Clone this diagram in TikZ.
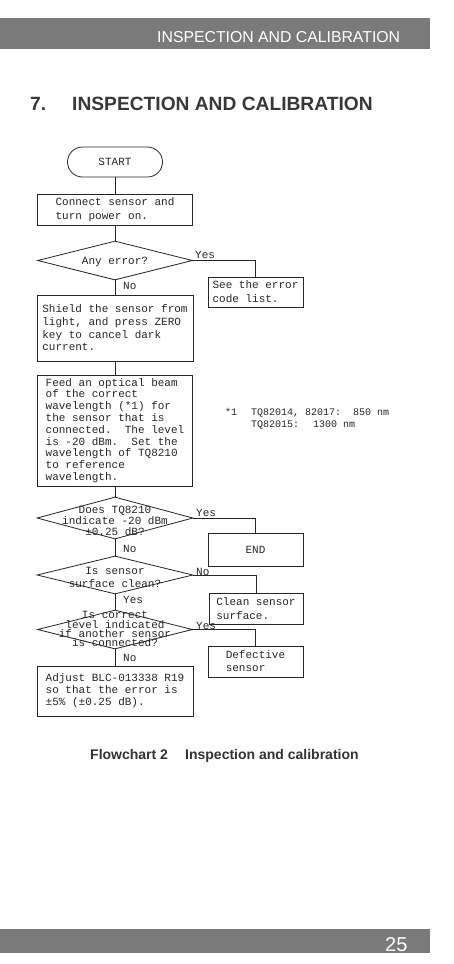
\documentclass[tikz,border=0pt]{standalone}
\usepackage{fontspec}
\setmainfont{Liberation Sans}
\setmonofont{Liberation Mono}
\usetikzlibrary{shapes.geometric}
\newcommand\mysz[2]{\fontsize{#1}{#2}\selectfont\ttfamily}
\begin{document}
\begin{tikzpicture}[x=1pt,y=-1pt,
  line/.style={draw=black!85, line width=0.8pt},
  proc/.style={rectangle, line, inner sep=0pt, align=left, text=black!85},
  startbox/.style={rectangle, rounded corners=15pt, line, inner sep=0pt, minimum width=95pt, minimum height=30pt, font=\mysz{11}{13}, text=black!85},
  dec/.style={diamond, line, inner sep=0pt},
  dtext/.style={align=center, inner sep=0pt, text=black!85},
  lab/.style={inner sep=0pt, font=\mysz{11}{13}, text=black!85},
  bar/.style={fill=black!52, draw=none},
  bartext/.style={inner sep=0pt, text=white},
]
\useasboundingbox (0,0) rectangle (454,964);
\fill[white] (0,0) rectangle (454,964);

% header
\path[bar] (0,18) rectangle (430,49);
\node[bartext, anchor=base west, font=\fontsize{15.8}{18}\selectfont] (htext) at (157,42) {INSPECTION AND CALIBRATION};

% title
\node[inner sep=0pt, anchor=base west, font=\fontsize{19.2}{22}\selectfont\bfseries, text=black!78] (tnum) at (30,110) {7.};
\node[inner sep=0pt, anchor=base west, font=\fontsize{19.2}{22}\selectfont\bfseries, text=black!78] (ttl) at (72,110) {INSPECTION AND CALIBRATION};

% flowchart
\node[startbox] (start) at (115,162) {START};
\node[proc, minimum width=155pt, minimum height=31pt, font=\mysz{11}{14}] (b1) at (115,209.5) {Connect sensor and\\turn power on.};
\node[dec, minimum width=155pt, minimum height=39pt] (d1) at (115,260.5) {};
\node[dtext, font=\mysz{11}{13}] (d1t) at (115,262) {Any error?};
\node[proc, minimum width=95pt, minimum height=30pt, font=\mysz{11}{14}] (err) at (255.5,292) {See the error\\code list.};
\node[proc, minimum width=156pt, minimum height=66pt, font=\mysz{11}{12.7}] (b3) at (115,328) {Shield the sensor from\\light, and press ZERO\\key to cancel dark\\current.};
\node[proc, minimum width=155pt, minimum height=111pt, font=\mysz{11}{11.8}] (b4) at (115,430.5) {Feed an optical beam\\of the correct\\wavelength (*1) for\\the sensor that is\\connected.\ \ The level\\is -20 dBm.\ \ Set the\\wavelength of TQ8210\\to reference\\wavelength.};
\node[dec, minimum width=156pt, minimum height=42pt] (d2) at (115,518) {};
\node[dtext, font=\mysz{11}{11}] (d2t) at (115,521) {Does TQ8210\\indicate -20 dBm\\±0.25 dB?};
\node[proc, minimum width=95pt, minimum height=33pt, font=\mysz{11}{13}] (endb) at (255.5,549.5) {END};
\node[dec, minimum width=156pt, minimum height=38pt] (d3) at (115,575) {};
\node[dtext, font=\mysz{11}{13}] (d3t) at (115,577) {Is sensor\\surface clean?};
\node[proc, minimum width=94pt, minimum height=31pt, font=\mysz{11}{14}] (clean) at (256,608.5) {Clean sensor\\surface.};
\node[dec, minimum width=155pt, minimum height=39pt] (d4) at (115,629.5) {};
\node[dtext, font=\mysz{11}{8}] (d4t) at (115,629) {Is correct\\level indicated\\if another sensor\\is connected?};
\node[proc, minimum width=95pt, minimum height=31pt, font=\mysz{11}{13}] (defc) at (255.5,661.5) {Defective\\sensor};
\node[proc, minimum width=156pt, minimum height=50pt, font=\mysz{11}{12}] (b5) at (115,691) {Adjust BLC-013338 R19\\so that the error is\\±5\% (±0.25 dB).};

\draw[line] (start) -- (b1);
\draw[line] (b1) -- (d1);
\draw[line] (d1) -- (b3);
\draw[line] (b3) -- (b4);
\draw[line] (b4) -- (d2);
\draw[line] (d2) -- (d3);
\draw[line] (d3) -- (d4);
\draw[line] (d4) -- (b5);
\draw[line] (d1.east) -| (err.north);
\draw[line] (d2.east) -| (endb.north);
\draw[line] (d3.east) -| (clean.north);
\draw[line] (d4.east) -| (defc.north);

% branch labels
\node[lab, anchor=base west] (y1) at (195,258) {Yes};
\node[lab, anchor=base west] (n1) at (123,289) {No};
\node[lab, anchor=base west] (y2) at (196,516.5) {Yes};
\node[lab, anchor=base west] (n2) at (123,552) {No};
\node[lab, anchor=base west] (n3) at (196,575) {No};
\node[lab, anchor=base west] (y3) at (123,603.5) {Yes};
\node[lab, anchor=base west] (y4) at (196,629.5) {Yes};
\node[lab, anchor=base west] (n4) at (123,661) {No};

% footnote
\node[inner sep=0pt, anchor=base west, font=\mysz{10}{12}, text=black!85] (fn1) at (225,415) {*1};
\node[inner sep=0pt, anchor=base west, font=\mysz{10}{12}, text=black!85] (fn2) at (251,415) {TQ82014, 82017:};
\node[inner sep=0pt, anchor=base west, font=\mysz{10}{12}, text=black!85] (fn3) at (353,415) {850 nm};
\node[inner sep=0pt, anchor=base west, font=\mysz{10}{12}, text=black!85] (fn4) at (251,427) {TQ82015:};
\node[inner sep=0pt, anchor=base west, font=\mysz{10}{12}, text=black!85] (fn5) at (313,427) {1300 nm};

% caption
\node[inner sep=0pt, anchor=base west, font=\fontsize{14}{16}\selectfont\bfseries, text=black!80] (cap1) at (90,759) {Flowchart 2};
\node[inner sep=0pt, anchor=base west, font=\fontsize{14}{16}\selectfont\bfseries, text=black!80] (cap2) at (185,759) {Inspection and calibration};

% footer
\path[bar] (0,929) rectangle (430,953);
\node[bartext, anchor=base west, font=\fontsize{20}{24}\selectfont] (pg) at (385,951) {25};
\end{tikzpicture}
\end{document}
